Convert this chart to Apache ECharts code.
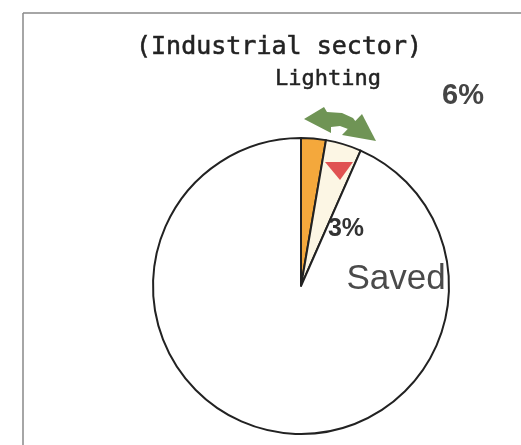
<!DOCTYPE html>
<html>
<head>
<meta charset="utf-8">
<script src="https://cdn.jsdelivr.net/npm/echarts@6/dist/echarts.min.js"></script>
<style>
  html, body { margin: 0; padding: 0; background: #fff; }
  #chartDiv { width: 521px; height: 445px; }
</style>
</head>
<body>
<div id="chartDiv"></div>
<script>
// data
const sliceNames = ["Lighting (remaining)", "Lighting (saved)", "Other"];
const sliceValues = [2.7, 3.9, 93.4];
const sliceColors = ["#f4a83c", "#fcf6e4", "#ffffff"];
const titleText = "(Industrial sector)";
const lightingText = "Lighting";
const lightingShare = "6%";
const savedShare = "3%";
const savedText = "Saved";

let chart = echarts.init(document.getElementById("chartDiv"));

let pieData = [];
for (let i = 0; i < sliceValues.length; i++) {
    pieData.push({
        name: sliceNames[i],
        value: sliceValues[i],
        itemStyle: { color: sliceColors[i] },
    });
}

chart.setOption({
    backgroundColor: "#fff",
    animation: false,
    title: {
        text: titleText,
        left: 274,
        top: 30,
        textAlign: "center",
        textStyle: {
            fontFamily: "DejaVu Sans Mono",
            fontSize: 25,
            fontWeight: "normal",
            color: "#222",
            textBorderColor: "#333",
            textBorderWidth: 0.6,
        },
    },
    series: [
        {
            type: "pie",
            center: [301, 286],
            radius: 148,
            startAngle: 90,
            clockwise: true,
            label: { show: false },
            labelLine: { show: false },
            emphasis: { disabled: true },
            itemStyle: {
                borderColor: "#222",
                borderWidth: 2,
            },
            data: pieData,
        },
    ],
    graphic: [
        // frame
        { type: "line", shape: { x1: 23, y1: 13, x2: 521, y2: 13 }, style: { stroke: "#888", lineWidth: 1.5 } },
        { type: "line", shape: { x1: 23, y1: 13, x2: 23, y2: 445 }, style: { stroke: "#888", lineWidth: 1.5 } },
        // red marker in the saved slice
        {
            type: "polygon",
            shape: { points: [[325, 162], [353, 162], [340, 180]] },
            style: { fill: "#e05252" },
            z: 10,
        },
        // green double arrow
        {
            type: "polygon",
            shape: {
                points: [[304, 119], [324, 107], [327, 112], [342, 113], [353, 118], [359, 126],
                         [348, 129], [340, 126], [331, 127], [331, 133]],
            },
            style: { fill: "#6f9455" },
            z: 10,
        },
        {
            type: "polygon",
            shape: { points: [[362, 114], [342, 135], [376, 141]] },
            style: { fill: "#6f9455" },
            z: 10,
        },
        // texts
        {
            type: "text", x: 328, y: 79, z: 10,
            style: { text: lightingText, fontFamily: "DejaVu Sans Mono", fontSize: 22, fill: "#222", stroke: "#333", lineWidth: 0.5, align: "center", verticalAlign: "middle" },
        },
        {
            type: "text", x: 463, y: 96, z: 10,
            style: { text: lightingShare, fontFamily: "Liberation Sans", fontWeight: "bold", fontSize: 29, fill: "#444", align: "center", verticalAlign: "middle" },
        },
        {
            type: "text", x: 346, y: 229, z: 10,
            style: { text: savedShare, fontFamily: "Liberation Sans", fontWeight: "bold", fontSize: 25, fill: "#333", align: "center", verticalAlign: "middle" },
        },
        {
            type: "text", x: 396, y: 279, z: 10,
            style: { text: savedText, fontFamily: "Liberation Sans", fontSize: 35, fill: "#4a4a4a", align: "center", verticalAlign: "middle" },
        },
    ],
});

window.onresize = function () {
    chart.resize();
};
</script>
</body>
</html>
